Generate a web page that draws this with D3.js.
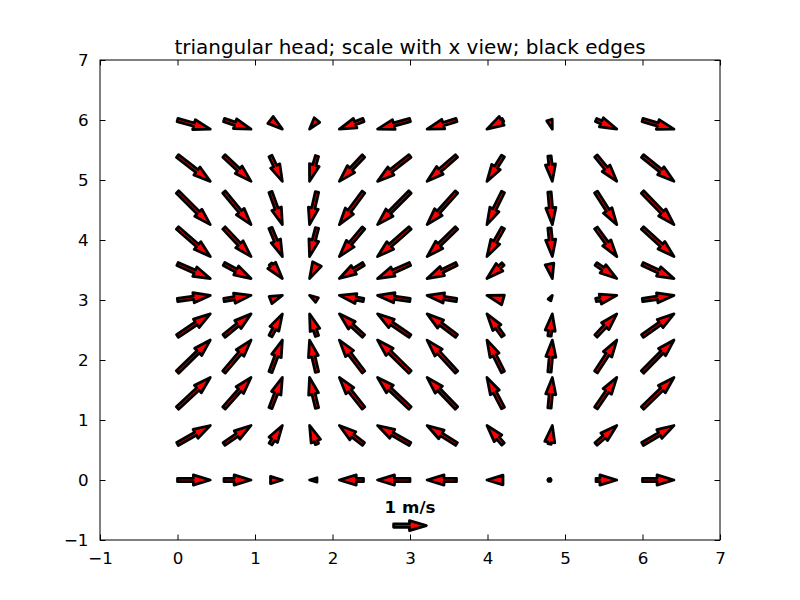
<!DOCTYPE html>
<html>
<head>
<meta charset="utf-8">
<script src="https://cdn.jsdelivr.net/npm/d3@7"></script>
<style>
  body { margin: 0; background: #fff; }
  text { font-family: "DejaVu Sans", sans-serif; }
</style>
</head>
<body>
<svg width="800" height="600"></svg>
<script>
// grid positions (every third point of 0..6.2 step .2)
var xs = [0, 0.6, 1.2, 1.8, 2.4, 3.0, 3.6, 4.2, 4.8, 5.4, 6.0];
var ys = [0, 0.6, 1.2, 1.8, 2.4, 3.0, 3.6, 4.2, 4.8, 5.4, 6.0];
// u component per column, v component per row
var uCol = [1.000, 0.825, 0.362, -0.227, -0.737, -0.990, -0.897, -0.490, 0.087, 0.635, 0.960];
var vRow = [0.000, 0.565, 0.932, 0.974, 0.675, 0.141, -0.443, -0.872, -0.996, -0.773, -0.279];
var xTicks = [-1, 0, 1, 2, 3, 4, 5, 6, 7];
var yTicks = [-1, 0, 1, 2, 3, 4, 5, 6, 7];
var keyValue = 1, keyLabel = '1 m/s';

var svg = d3.select('svg');
var margin = {top: 60, right: 80, bottom: 60, left: 100}
  , width = 800 - margin.left - margin.right
  , height = 600 - margin.top - margin.bottom;

var xScale = d3.scaleLinear().domain([-1, 7]).range([0, width]);
var yScale = d3.scaleLinear().domain([-1, 7]).range([height, 0]);

var g = svg.append('g')
    .attr('transform', 'translate(' + margin.left + ',' + margin.top + ')');

// build the vectors
var data = [];
ys.forEach(function(y, j) {
  xs.forEach(function(x, i) {
    data.push({x: x, y: y, u: uCol[i], v: vRow[j]});
  });
});

// matplotlib-like autoscale, units='x'
var span = 8, sn = Math.max(10, Math.sqrt(data.length));
var amean = d3.mean(data, function(d) { return Math.hypot(d.u, d.v); });
var scale = 1.8 * amean * sn / span;
var pxPerData = xScale(1) - xScale(0);
var widthPx = 0.06 * span / sn * pxPerData;
var headwidth = 3, headlength = 5, headaxislength = 5, minshaft = 1, minlength = 1;

function arrowPoints(len) {
  // len in shaft-width units, returns points before rotation (tail at origin)
  var minsh = minshaft * headlength;
  if (len < minlength) {
    // too short: small hexagon
    return d3.range(8).map(function(k) {
      var th = k * Math.PI / 3;
      return [Math.cos(th) * minlength * 0.5, Math.sin(th) * minlength * 0.5];
    });
  }
  var X, Y;
  if (len < minsh) {
    var s = len / minsh;
    X = [0, minsh - headaxislength, minsh - headlength, minsh].map(function(v) { return v * s; });
    Y = [0.5, 0.5, 0.5 * headwidth, 0].map(function(v) { return v * s; });
  } else {
    X = [0, len - headaxislength, len - headlength, len];
    Y = [0.5, 0.5, 0.5 * headwidth, 0];
  }
  var ii = [0, 1, 2, 3, 2, 1, 0];
  return ii.map(function(k, n) {
    return [X[k], n >= 4 ? -Y[k] : Y[k]];
  });
}

function arrowPath(cx, cy, u, v, pivot) {
  var a = Math.hypot(u, v);
  var lenPx = a / scale * pxPerData;
  var len = lenPx / widthPx;
  var pts = arrowPoints(len);
  var shift = 0;
  if (pivot === 'middle' && len >= minlength) shift = -len / 2;
  var ang = Math.atan2(-v, u);
  var c = Math.cos(ang), s = Math.sin(ang);
  return d3.line()(pts.map(function(p) {
    var px = (p[0] + shift) * widthPx, py = -p[1] * widthPx;
    return [cx + px * c - py * s, cy + px * s + py * c];
  })) + 'Z';
}

// title
svg.append('text')
  .text('triangular head; scale with x view; black edges')
  .attr('x', margin.left + width / 2)
  .attr('y', 54)
  .attr('text-anchor', 'middle')
  .style('font-size', '20px');

// arrows
g.selectAll('.arrow')
  .data(data)
  .enter().append('path')
    .attr('class', 'arrow')
    .attr('d', function(d) { return arrowPath(xScale(d.x), yScale(d.y), d.u, d.v, 'tail'); })
    .attr('fill', '#ff0000')
    .attr('stroke', '#000')
    .attr('stroke-width', 2.78)
    .attr('stroke-linejoin', 'round');

// quiver key
var keyX = width * 0.5, keyY = height * 0.97;
g.append('path')
  .attr('d', arrowPath(keyX, keyY, keyValue, 0, 'middle'))
  .attr('fill', '#ff0000')
  .attr('stroke', '#000')
  .attr('stroke-width', 2.78)
  .attr('stroke-linejoin', 'round');
g.append('text')
  .text(keyLabel)
  .attr('x', keyX)
  .attr('y', keyY - 10 - widthPx * 1.5 + 2)
  .attr('text-anchor', 'middle')
  .style('font-weight', 'bold')
  .style('font-size', '16.7px');

// frame
g.append('rect')
  .attr('width', width)
  .attr('height', height)
  .attr('fill', 'none')
  .attr('stroke', '#000')
  .attr('stroke-width', 1);

// axes with inward ticks
var tickLen = 5.5;
var fmt = function(d) { return d < 0 ? '\u2212' + Math.abs(d) : d; };
var xAxisB = d3.axisBottom(xScale).tickValues(xTicks).tickSizeInner(-tickLen).tickSizeOuter(0).tickPadding(7 + tickLen).tickFormat(fmt);
var xAxisT = d3.axisTop(xScale).tickValues(xTicks).tickSizeInner(-tickLen).tickSizeOuter(0).tickFormat('');
var yAxisL = d3.axisLeft(yScale).tickValues(yTicks).tickSizeInner(-tickLen).tickSizeOuter(0).tickPadding(6 + tickLen).tickFormat(fmt);
var yAxisR = d3.axisRight(yScale).tickValues(yTicks).tickSizeInner(-tickLen).tickSizeOuter(0).tickFormat('');

g.append('g').attr('class', 'axis').attr('transform', 'translate(0,' + height + ')').call(xAxisB);
g.append('g').attr('class', 'axis').call(xAxisT);
g.append('g').attr('class', 'axis').call(yAxisL);
g.append('g').attr('class', 'axis').attr('transform', 'translate(' + width + ',0)').call(yAxisR);

g.selectAll('.axis .domain').remove();
g.selectAll('.axis text')
  .style('font-family', '"DejaVu Sans", sans-serif')
  .style('font-size', '16.7px')
  .attr('fill', '#000');
g.selectAll('.axis line').attr('stroke', '#000');
</script>
</body>
</html>
